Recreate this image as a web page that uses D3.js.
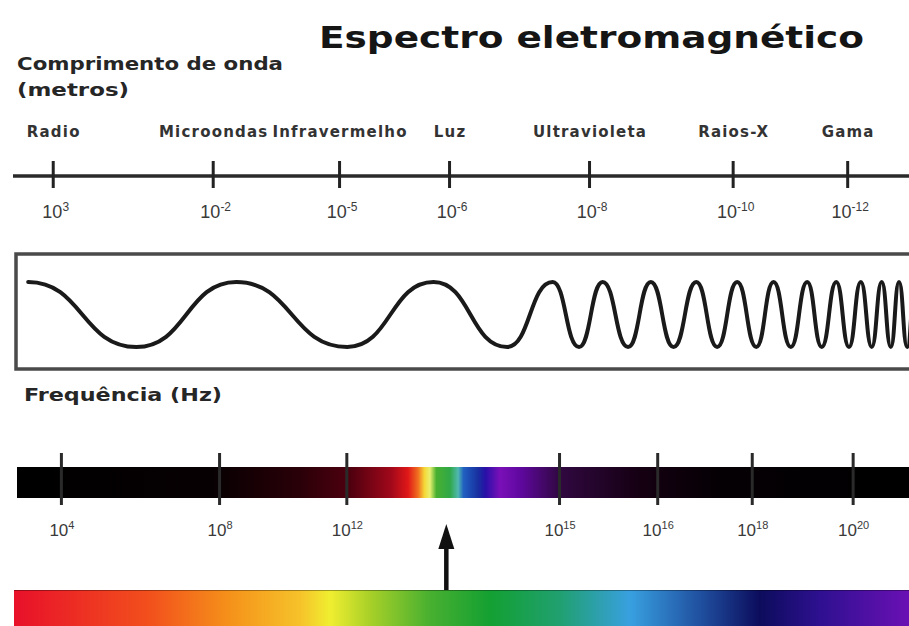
<!DOCTYPE html>
<html><head><meta charset="utf-8">
<script src="https://cdn.jsdelivr.net/npm/d3@7"></script>
<style>body{margin:0;background:#fff}svg{display:block}</style>
</head><body>
<svg id="c" width="909" height="626"></svg>
<script>
// ---------- data ----------
const bandNames    = ["Radio","Microondas","Infravermelho","Luz","Ultravioleta","Raios-X","Gama"];
const waveTickPos  = [5.8, 23.4, 37.3, 49.4, 64.8, 80.6, 93.2];     // schematic position along strip (0-100)
const waveExp      = ["3","-2","-5","-6","-8","-10","-12"];         // wavelength 10^x m
const freqTickPos  = [6.7, 24.1, 38.1, 61.5, 72.3, 82.7, 93.8];
const freqExp      = ["4","8","12","15","16","18","20"];             // frequency 10^x Hz
const waveExtremaPos = [3.1,15.0,26.0,38.2,47.7,55.8,60.8,63.7,66.3,69.1,71.6,74.1,76.6,78.9,81.1,83.2,85.1,87.0,88.8,90.4,92.0,93.4,94.7,95.9,97.0,98.0,98.9,99.8,100.7];
const waveExtremaLevel = waveExtremaPos.map((d,i)=> i%2===0 ? 1 : -1);
const visiblePos = 49.1;   // arrow marking visible light

// gradient stops (position 0-100, colour)
const freqStops = [[1.9,"#000000"],[23.5,"#070002"],[33,"#2a0008"],[38.5,"#4e000f"],[43,"#a0081a"],[44.9,"#e01818"],[46,"#f07020"],[46.7,"#f5d838"],[47.3,"#e8f070"],[48,"#48b030"],[49.5,"#30a848"],[50.4,"#50b8b0"],[51,"#2060c0"],[52.6,"#1830a0"],[53.4,"#2810a8"],[55,"#7a10b8"],[57.2,"#6008a0"],[61.6,"#300840"],[70.4,"#150012"],[79,"#050004"],[100,"#000000"]];
const rainbowStops = [[1.5,"#e8102a"],[16.5,"#f2501c"],[25.3,"#f5921a"],[33,"#f6c22a"],[36.3,"#f0ee30"],[40.7,"#a8d028"],[47.3,"#48b030"],[53.9,"#14a032"],[61.6,"#20a070"],[69.3,"#38a0e0"],[77,"#2050a0"],[83.6,"#0c0c5c"],[90.2,"#2e1090"],[100,"#6a10b4"]];

// ---------- setup ----------
const svg = d3.select("#c");
const W = 909;
const x = d3.scaleLinear().domain([0,100]).range([0,W]);
const defs = svg.append("defs");

function grad(id, stops){
  const g = defs.append("linearGradient").attr("id",id)
    .attr("gradientUnits","userSpaceOnUse").attr("x1",0).attr("x2",W).attr("y1",0).attr("y2",0);
  g.selectAll("stop").data(stops).join("stop")
    .attr("offset",d=>d[0]/100).attr("stop-color",d=>d[1]);
}
grad("gFreq", freqStops);
grad("gRain", rainbowStops);

function sup(sel, exp, baseSize, supSize){
  sel.append("tspan").text("10").attr("font-size",baseSize);
  sel.append("tspan").text(exp).attr("font-size",supSize).attr("dy",-7);
}

// ---------- titles ----------
svg.append("text").attr("x",319).attr("y",48).attr("textLength",545).attr("lengthAdjust","spacingAndGlyphs")
  .attr("font-family","DejaVu Sans").attr("font-weight","bold").attr("font-size",31).attr("fill","#151515")
  .text("Espectro eletromagnético");
svg.append("text").attr("x",17).attr("y",70).attr("textLength",266).attr("lengthAdjust","spacingAndGlyphs")
  .attr("font-family","DejaVu Sans").attr("font-weight","bold").attr("font-size",18).attr("fill","#262626")
  .text("Comprimento de onda");
svg.append("text").attr("x",17).attr("y",96).attr("textLength",112).attr("lengthAdjust","spacingAndGlyphs")
  .attr("font-family","DejaVu Sans").attr("font-weight","bold").attr("font-size",18).attr("fill","#262626")
  .text("(metros)");

// ---------- wavelength axis ----------
const axY = 176;
svg.append("line").attr("x1",13).attr("x2",W).attr("y1",axY).attr("y2",axY)
  .attr("stroke","#2a2a2a").attr("stroke-width",3.5);
const wAxis = svg.append("g").attr("transform",`translate(0,${axY})`)
  .call(d3.axisBottom(x).tickValues(waveTickPos).tickSize(12).tickFormat(""));
wAxis.select(".domain").remove();
wAxis.selectAll(".tick line").attr("y1",-15).attr("y2",12).attr("stroke","#222").attr("stroke-width",3);

svg.append("g").selectAll("text").data(bandNames).join("text")
  .attr("x",(d,i)=>x(waveTickPos[i])+1).attr("y",137).attr("text-anchor","middle")
  .attr("font-family","DejaVu Sans").attr("font-weight","bold").attr("font-size",15)
  .attr("letter-spacing",1.2).attr("fill","#333").text(d=>d);

svg.append("g").selectAll("text").data(waveExp).join("text")
  .attr("x",(d,i)=>x(waveTickPos[i])+3).attr("y",218).attr("text-anchor","middle")
  .attr("font-family","Liberation Sans").attr("fill","#3a3a3a")
  .each(function(d){ sup(d3.select(this), d, 18, 12); });

// ---------- wave box ----------
svg.append("rect").attr("x",16).attr("y",254).attr("width",W+10).attr("height",115)
  .attr("fill","#fff").attr("stroke","#4a4a4a").attr("stroke-width",3.5);
const yWave = d3.scaleLinear().domain([-1,1]).range([347,282]);
const waveLine = d3.line().x(d=>x(d[0])).y(d=>yWave(d[1])).curve(d3.curveBumpX);
svg.append("path").datum(waveExtremaPos.map((p,i)=>[p,waveExtremaLevel[i]]))
  .attr("d",waveLine).attr("fill","none").attr("stroke","#1a1a1a")
  .attr("stroke-width",4).attr("stroke-linecap","round");

// ---------- frequency ----------
svg.append("text").attr("x",24).attr("y",401).attr("textLength",198).attr("lengthAdjust","spacingAndGlyphs")
  .attr("font-family","DejaVu Sans").attr("font-weight","bold").attr("font-size",18).attr("fill","#262626")
  .text("Frequência (Hz)");

svg.append("rect").attr("x",17).attr("y",467).attr("width",W-17).attr("height",31).attr("fill","url(#gFreq)");
const fAxis = svg.append("g").attr("transform","translate(0,467)")
  .call(d3.axisBottom(x).tickValues(freqTickPos).tickSize(0).tickFormat(""));
fAxis.select(".domain").remove();
fAxis.selectAll(".tick line").attr("y1",-14).attr("y2",38).attr("stroke","#2a2a2a").attr("stroke-width",3);

svg.append("g").selectAll("text").data(freqExp).join("text")
  .attr("x",(d,i)=>x(freqTickPos[i])+1).attr("y",536).attr("text-anchor","middle")
  .attr("font-family","Liberation Sans").attr("fill","#3a3a3a")
  .each(function(d){ sup(d3.select(this), d, 17, 11); });

// arrow
const ax = x(visiblePos);
svg.append("line").attr("x1",ax).attr("x2",ax).attr("y1",545).attr("y2",591)
  .attr("stroke","#111").attr("stroke-width",4.5);
svg.append("path").attr("d",`M${ax},524 L${ax-8},549 L${ax+8},549 Z`).attr("fill","#111");

// rainbow
svg.append("rect").attr("x",14).attr("y",590).attr("width",W-14).attr("height",36).attr("fill","url(#gRain)");
svg.append("line").attr("x1",14).attr("x2",W).attr("y1",590.5).attr("y2",590.5).attr("stroke","#000").attr("stroke-opacity",0.35);
</script>
</body></html>
